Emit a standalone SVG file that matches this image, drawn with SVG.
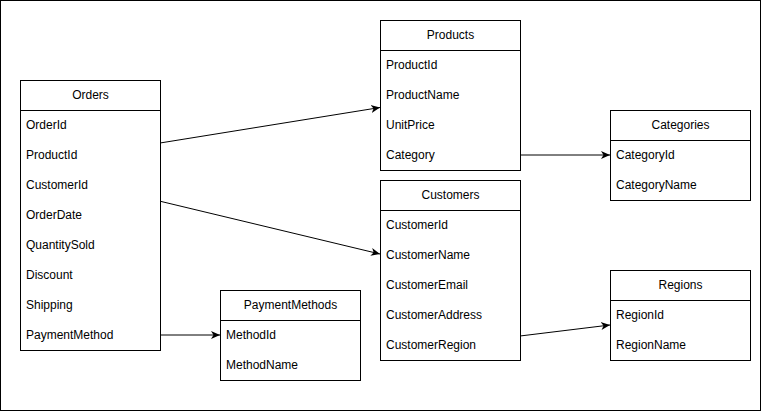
<svg xmlns="http://www.w3.org/2000/svg" width="761" height="411" viewBox="0 0 761 411">
<style>
.box{fill:#fff;stroke:#000;stroke-width:1}
.t{font-family:"Liberation Sans",Arial,sans-serif;font-size:12px;fill:#000}
.h{text-anchor:middle}
.c{stroke:#000;stroke-width:1;fill:none;marker-end:url(#arr)}
</style>
<defs>
<marker id="arr" viewBox="0 0 10 10" refX="9" refY="5" markerWidth="10" markerHeight="10" markerUnits="userSpaceOnUse" orient="auto">
<path d="M0,1 L9,5 L0,9 L2.5,5 Z" fill="#000"/>
</marker>
</defs>
<rect x="0.5" y="0.5" width="760" height="410" fill="#fff" stroke="#000"/>
<g id="connectors">
<line class="c" x1="160" y1="143" x2="380" y2="107.5"/>
<line class="c" x1="155" y1="200" x2="380" y2="254"/>
<line class="c" x1="520" y1="155" x2="610" y2="155"/>
<line class="c" x1="160" y1="335" x2="220" y2="335"/>
<line class="c" x1="520" y1="336" x2="610" y2="325"/>
</g>
<g id="orders">
<rect class="box" x="20.5" y="80.5" width="140" height="270"/>
<line x1="20.5" y1="110.5" x2="160.5" y2="110.5" stroke="#000"/>
<text class="t h" x="90.5" y="99">Orders</text>
<text class="t" x="26" y="129">OrderId</text>
<text class="t" x="26" y="159">ProductId</text>
<text class="t" x="26" y="189">CustomerId</text>
<text class="t" x="26" y="219">OrderDate</text>
<text class="t" x="26" y="249">QuantitySold</text>
<text class="t" x="26" y="279">Discount</text>
<text class="t" x="26" y="309">Shipping</text>
<text class="t" x="26" y="339">PaymentMethod</text>
</g>
<g id="products">
<rect class="box" x="380.5" y="20.5" width="140" height="150"/>
<line x1="380.5" y1="50.5" x2="520.5" y2="50.5" stroke="#000"/>
<text class="t h" x="450.5" y="39">Products</text>
<text class="t" x="386" y="69">ProductId</text>
<text class="t" x="386" y="99">ProductName</text>
<text class="t" x="386" y="129">UnitPrice</text>
<text class="t" x="386" y="159">Category</text>
</g>
<g id="customers">
<rect class="box" x="380.5" y="180.5" width="140" height="180"/>
<line x1="380.5" y1="210.5" x2="520.5" y2="210.5" stroke="#000"/>
<text class="t h" x="450.5" y="199">Customers</text>
<text class="t" x="386" y="229">CustomerId</text>
<text class="t" x="386" y="259">CustomerName</text>
<text class="t" x="386" y="289">CustomerEmail</text>
<text class="t" x="386" y="319">CustomerAddress</text>
<text class="t" x="386" y="349">CustomerRegion</text>
</g>
<g id="categories">
<rect class="box" x="610.5" y="110.5" width="140" height="90"/>
<line x1="610.5" y1="140.5" x2="750.5" y2="140.5" stroke="#000"/>
<text class="t h" x="680.5" y="129">Categories</text>
<text class="t" x="616" y="159">CategoryId</text>
<text class="t" x="616" y="189">CategoryName</text>
</g>
<g id="regions">
<rect class="box" x="610.5" y="270.5" width="140" height="90"/>
<line x1="610.5" y1="300.5" x2="750.5" y2="300.5" stroke="#000"/>
<text class="t h" x="680.5" y="289">Regions</text>
<text class="t" x="616" y="319">RegionId</text>
<text class="t" x="616" y="349">RegionName</text>
</g>
<g id="paymentmethods">
<rect class="box" x="220.5" y="290.5" width="140" height="90"/>
<line x1="220.5" y1="320.5" x2="360.5" y2="320.5" stroke="#000"/>
<text class="t h" x="290.5" y="309">PaymentMethods</text>
<text class="t" x="226" y="339">MethodId</text>
<text class="t" x="226" y="369">MethodName</text>
</g>
</svg>
